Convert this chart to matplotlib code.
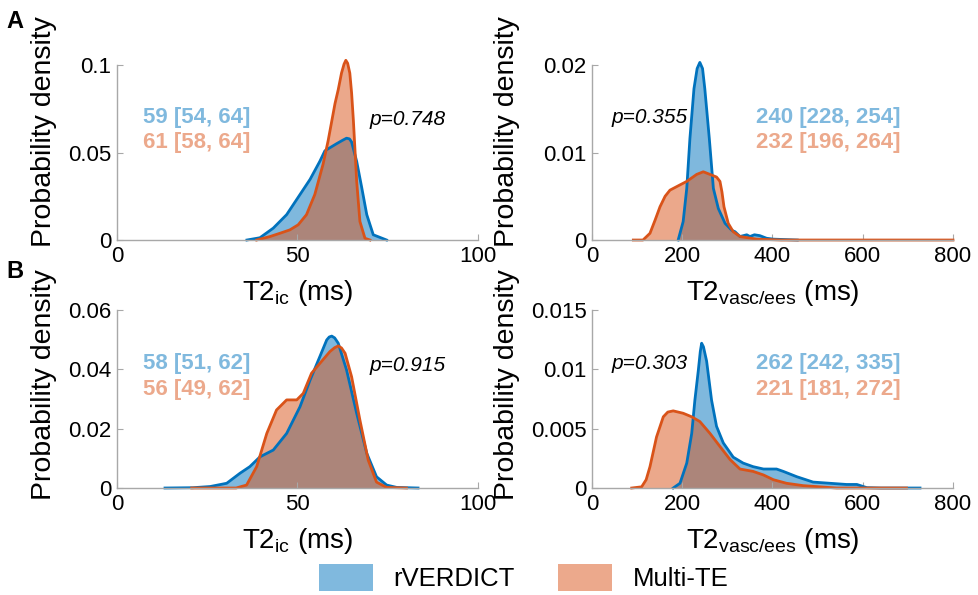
import numpy as np
import matplotlib
matplotlib.use("Agg")
import matplotlib.pyplot as plt
from matplotlib.patches import Patch

# ---- data (density curves) ----
# A, T2ic
a_ic_blue_x = [36, 39.6, 43.3, 47, 50.7, 53.5, 56.2, 57.6, 60.8, 62.5, 63.6, 64.4, 65, 66.4, 67.8, 69.2, 71, 74.7]
a_ic_blue_y = [0, 0.0013, 0.0068, 0.0145, 0.026, 0.0347, 0.045, 0.051, 0.055, 0.057, 0.0582, 0.0578, 0.056, 0.045,
               0.030, 0.0145, 0.003, 0]
a_ic_orng_x = [38.7, 42.4, 45.2, 47.9, 50.2, 52.5, 54.8, 57.1, 58.5, 60.4, 61.3, 62.2, 62.9, 63.4, 63.9, 64.5, 65.0,
               65.5, 66.4, 67.3, 68.7, 70.1]
a_ic_orng_y = [0, 0.002, 0.0039, 0.0058, 0.0087, 0.0145, 0.026, 0.0434, 0.0568, 0.078, 0.086, 0.0954, 0.1005, 0.1027,
               0.101, 0.0954, 0.084, 0.068, 0.0337, 0.0106, 0.001, 0]

# A, T2vasc/ees
a_ve_blue_x = [191, 202, 210, 217, 226, 233, 239, 245, 250, 260, 269, 280, 295, 310, 317, 328, 343, 350, 360, 372, 387,
               402, 455]
a_ve_blue_y = [0, 0.0021, 0.0059, 0.0116, 0.0173, 0.0196, 0.0203, 0.0196, 0.0173, 0.0116, 0.0059, 0.0036, 0.0019,
               0.0011, 0.00095, 0.0004, 0.0006, 0.0004, 0.0006, 0.0005, 0.0002, 0.0001, 0]
a_ve_orng_x = [91.6, 113, 128.5, 140, 150.7, 162, 172.8, 195, 210, 232, 246.6, 261.5, 276, 283.6, 288, 292.5, 302, 313,
               328, 365, 420, 800]
a_ve_orng_y = [0, 0, 0.00077, 0.0023, 0.0038, 0.0050, 0.0057, 0.0063, 0.0067, 0.0075, 0.0078, 0.0075, 0.0072, 0.0067,
               0.0055, 0.0038, 0.0019, 0.00095, 0.0004, 0.0001, 0, 0]

# B, T2ic
b_ic_blue_x = [13.3, 21, 25.8, 30.4, 34.1, 36.8, 39.6, 43.3, 47, 50.7, 53.5, 56.2, 58.1, 58.8, 59.5, 60.3, 61.3, 63.6,
               66.4, 69.2, 71.9, 74.7, 77.5, 83.4]
b_ic_blue_y = [0, 0.0001, 0.0005, 0.0016, 0.005, 0.0072, 0.0105, 0.0128, 0.0184, 0.0274, 0.0364, 0.0443, 0.0499,
               0.0509, 0.0512, 0.0506, 0.0488, 0.0398, 0.0252, 0.0117, 0.0038, 0.001, 0.0002, 0]
b_ic_orng_x = [20.7, 33, 35.9, 38.7, 41.5, 44.2, 47, 49.8, 51.6, 53.9, 56.2, 59, 60.3, 61.3, 62.2, 63.2, 65, 67.3,
               69.6, 71.9, 74.7, 80.2]
b_ic_orng_y = [0, 0, 0.001, 0.0072, 0.0184, 0.0263, 0.0297, 0.0297, 0.0319, 0.0387, 0.042, 0.046, 0.0473, 0.0479,
               0.0472, 0.0454, 0.0375, 0.0229, 0.0094, 0.002, 0.0002, 0]

# B, T2vasc/ees
b_ve_blue_x = [180, 195, 210, 221, 228, 235.6, 240, 243, 247, 254, 265, 276, 291, 313, 335, 357, 380, 409, 424, 454,
               490, 527, 564, 587, 609, 640, 727]
b_ve_blue_y = [0, 0.0004, 0.0021, 0.0046, 0.0074, 0.0099, 0.0115, 0.0122, 0.0119, 0.0107, 0.0074, 0.0052, 0.0038,
               0.0026, 0.0021, 0.0018, 0.0016, 0.0016, 0.0014, 0.00095, 0.0005, 0.0004, 0.0003, 0.0003, 0.00003, 0, 0]
b_ve_orng_x = [88, 110, 120, 128.5, 143, 158, 168, 180, 202, 221, 239, 261.5, 283.6, 306, 328, 357, 380, 402, 431, 468,
               505, 542, 697]
b_ve_orng_y = [0, 0.0001, 0.0007, 0.0018, 0.0043, 0.006, 0.0064, 0.0065, 0.0063, 0.006, 0.0056, 0.0046, 0.0035,
               0.0024, 0.0016, 0.0014, 0.0011, 0.0007, 0.0004, 0.0002, 0.0001, 0, 0]

# medians [IQR] and p-values
txt_a_ic = ["59 [54, 64]", "61 [58, 64]", "p=0.748"]
txt_a_ve = ["240 [228, 254]", "232 [196, 264]", "p=0.355"]
txt_b_ic = ["58 [51, 62]", "56 [49, 62]", "p=0.915"]
txt_b_ve = ["262 [242, 335]", "221 [181, 272]", "p=0.303"]

ic_xticks = [0, 50, 100]
ve_xticks = [0, 200, 400, 600, 800]
a_ic_yticks = [0, 0.05, 0.1]
a_ve_yticks = [0, 0.01, 0.02]
b_ic_yticks = [0, 0.02, 0.04, 0.06]
b_ve_yticks = [0, 0.005, 0.01, 0.015]
series_names = ["rVERDICT", "Multi-TE"]

blue = "#0072BD"
orng = "#D95319"
blue_txt = "#80b9de"
orng_txt = "#eca98c"
axcol = "#a8a8a8"

plt.rcParams['font.family'] = ['Liberation Sans', 'DejaVu Sans']
plt.rcParams['mathtext.default'] = 'regular'
plt.rcParams['xtick.direction'] = 'in'
plt.rcParams['ytick.direction'] = 'in'

fig = plt.figure(figsize=(9.79, 5.95), dpi=100)

# axes positions (fig fraction)
pos = {
    "a_ic": (0.1195, 0.5966, 0.3687, 0.2941),
    "a_ve": (0.6047, 0.5966, 0.3687, 0.2941),
    "b_ic": (0.1195, 0.1798, 0.3687, 0.2992),
    "b_ve": (0.6047, 0.1798, 0.3687, 0.2992),
}


def draw_panel(ax, bx, by, ox, oy, xlim, xticks, yticks, xlabel, texts, left_side, ylab_y):
    # blue first, then orange on top (blue edge ends up under the orange fill)
    ax.fill_between(bx, by, 0, color=blue, alpha=0.5, lw=0, clip_on=False)
    ax.plot(bx, by, color=blue, lw=2, clip_on=False)
    ax.fill_between(ox, oy, 0, color=orng, alpha=0.5, lw=0, clip_on=False)
    ax.plot(ox, oy, color=orng, lw=2, clip_on=False)

    ax.set_xlim(xlim)
    ax.set_ylim(yticks[0], yticks[-1])
    ax.set_xticks(xticks)
    ax.set_xticklabels([f"{t:g}" for t in xticks])
    ax.set_yticks(yticks)
    ax.set_yticklabels([f"{t:g}" for t in yticks])
    for s in ["top", "right"]:
        ax.spines[s].set_visible(False)
    for s in ["left", "bottom"]:
        ax.spines[s].set_color(axcol)
        ax.spines[s].set_linewidth(1)
    ax.tick_params(colors=axcol, labelcolor="black", labelsize=16, length=4, pad=4)

    ax.set_xlabel(xlabel, fontsize=20)
    ax.xaxis.set_label_coords(0.5, -0.215)
    ax.set_ylabel("Probability density", fontsize=20.5)
    ax.yaxis.set_label_coords(-0.165 if left_side else -0.2, ylab_y)

    if left_side:
        tx, px = 0.072, 0.70
    else:
        tx, px = 0.454, 0.055
    ax.text(tx, 0.70, texts[0], transform=ax.transAxes, color=blue_txt, fontsize=16,
            fontweight="bold", va="center", ha="left")
    ax.text(tx, 0.555, texts[1], transform=ax.transAxes, color=orng_txt, fontsize=16,
            fontweight="bold", va="center", ha="left")
    ax.text(px, 0.69 if left_side else 0.70, texts[2], transform=ax.transAxes, fontsize=15,
            style="italic", va="center", ha="left")


lab_ic = r"T2$_{ic}$ (ms)"
lab_ve = r"T2$_{vasc/ees}$ (ms)"

ax1 = fig.add_axes(pos["a_ic"])
draw_panel(ax1, a_ic_blue_x, a_ic_blue_y, a_ic_orng_x, a_ic_orng_y, (0, 100), ic_xticks, a_ic_yticks,
           lab_ic, txt_a_ic, True, 0.62)
ax2 = fig.add_axes(pos["a_ve"])
draw_panel(ax2, a_ve_blue_x, a_ve_blue_y, a_ve_orng_x, a_ve_orng_y, (0, 800), ve_xticks, a_ve_yticks,
           lab_ve, txt_a_ve, False, 0.62)
ax3 = fig.add_axes(pos["b_ic"])
draw_panel(ax3, b_ic_blue_x, b_ic_blue_y, b_ic_orng_x, b_ic_orng_y, (0, 100), ic_xticks, b_ic_yticks,
           lab_ic, txt_b_ic, True, 0.58)
ax4 = fig.add_axes(pos["b_ve"])
draw_panel(ax4, b_ve_blue_x, b_ve_blue_y, b_ve_orng_x, b_ve_orng_y, (0, 800), ve_xticks, b_ve_yticks,
           lab_ve, txt_b_ve, False, 0.58)

# panel letters
fig.text(0.0153, 0.964, "A", fontsize=17, fontweight="bold", ha="center", va="center")
fig.text(0.0153, 0.544, "B", fontsize=17, fontweight="bold", ha="center", va="center")

# legend
handles = [Patch(facecolor=blue_txt, edgecolor="none"), Patch(facecolor=orng_txt, edgecolor="none")]
fig.legend(handles, series_names, loc="center", bbox_to_anchor=(0.535, 0.029), ncol=2, frameon=False,
           fontsize=18.5, handlelength=2.1, handleheight=1.2, handletextpad=0.8, columnspacing=1.7)

fig.savefig("out.png", dpi=100)
